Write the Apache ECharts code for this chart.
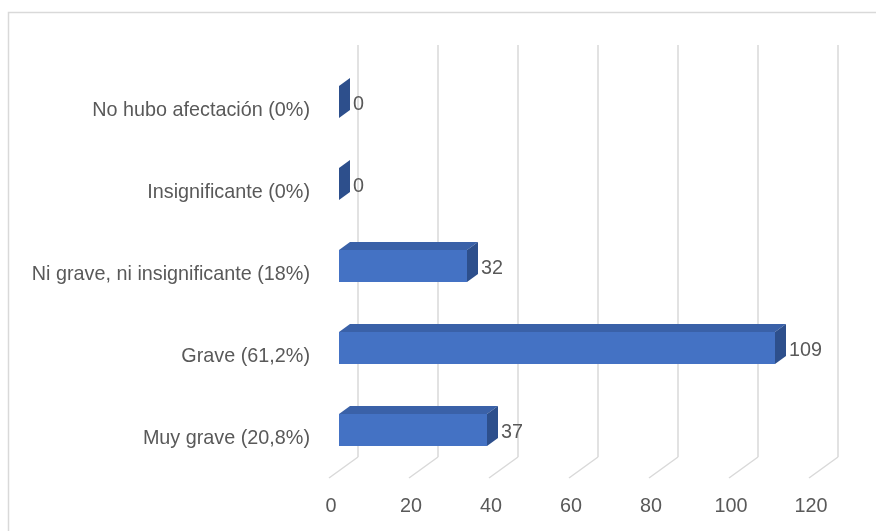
<!DOCTYPE html>
<html>
<head>
<meta charset="utf-8">
<script src="https://cdn.jsdelivr.net/npm/echarts@6/dist/echarts.min.js"></script>
<style>
  html, body { margin: 0; padding: 0; background: #fff; }
  #chart { width: 876px; height: 531px; }
</style>
</head>
<body>
<div id="chart"></div>
<script>
// Categories, bottom to top
const categories = [
  'Muy grave (20,8%)',
  'Grave (61,2%)',
  'Ni grave, ni insignificante (18%)',
  'Insignificante (0%)',
  'No hubo afectación (0%)'
];
const counts = [37, 109, 32, 0, 0];
const axisTicks = [0, 20, 40, 60, 80, 100, 120];

const TEXT = '#595959';
const GRID = '#d9d9d9';
const FONT = 'Liberation Sans';
const FONT_SIZE = 19.8;

// 3D box geometry (pixels)
const BAR_H = 32;      // front face height
const DEPTH_X = 11;    // bar depth shift
const DEPTH_Y = -8;
const WALL_X = 19;     // back wall offset from bar front
const FLOOR_FRONT_X = -10;

const chart = echarts.init(document.getElementById('chart'));

function renderBar(params, api) {
  const v = api.value(0);
  const c = api.value(1);
  const p0 = api.coord([0, c]);
  const p1 = api.coord([v, c]);
  const x0 = p0[0], x1 = p1[0];
  const yT = p0[1] - BAR_H / 2, yB = p0[1] + BAR_H / 2;
  const children = [];
  if (x1 - x0 > 0.5) {
    children.push({
      type: 'polygon',
      shape: { points: [[x0, yT], [x1, yT], [x1 + DEPTH_X, yT + DEPTH_Y], [x0 + DEPTH_X, yT + DEPTH_Y]] },
      style: { fill: '#3a61a8' }
    });
    children.push({
      type: 'rect',
      shape: { x: x0, y: yT, width: x1 - x0, height: BAR_H },
      style: { fill: '#4472c4' }
    });
  }
  children.push({
    type: 'polygon',
    shape: { points: [[x1, yT], [x1 + DEPTH_X, yT + DEPTH_Y], [x1 + DEPTH_X, yB + DEPTH_Y], [x1, yB]] },
    style: { fill: '#2d4f8c' }
  });
  children.push({
    type: 'text',
    style: {
      x: x1 + 14, y: p0[1] + 3,
      text: String(v),
      fill: TEXT, font: FONT_SIZE + 'px ' + FONT,
      verticalAlign: 'middle', align: 'left'
    }
  });
  return { type: 'group', children: children };
}

function renderGrid(params, api) {
  const v = api.value(0);
  const cs = params.coordSys;
  const x = api.coord([v, 0])[0];
  const top = cs.y - 16;
  const floorBack = cs.y + cs.height - 14;
  const floorFront = cs.y + cs.height + 7;
  const style = { stroke: GRID, lineWidth: 1.5, fill: null };
  return {
    type: 'group',
    children: [
      { type: 'line', shape: { x1: x + WALL_X, y1: top, x2: x + WALL_X, y2: floorBack }, style: style },
      { type: 'line', shape: { x1: x + WALL_X, y1: floorBack, x2: x + FLOOR_FRONT_X, y2: floorFront }, style: style }
    ]
  };
}

chart.setOption({
  animation: false,
  backgroundColor: '#fff',
  graphic: [{
    type: 'rect',
    shape: { x: 8.5, y: 12.5, width: 900, height: 600 },
    style: { fill: null, stroke: GRID, lineWidth: 1.5 },
    silent: true
  }],
  grid: { left: 339, right: 57, top: 61, bottom: 60 },
  xAxis: {
    type: 'value',
    min: 0, max: 120, interval: 20,
    axisLine: { show: false },
    axisTick: { show: false },
    splitLine: { show: false },
    axisLabel: {
      color: TEXT, fontSize: FONT_SIZE, fontFamily: FONT,
      margin: 26, padding: [0, 16, 0, 0]
    }
  },
  yAxis: {
    type: 'category',
    data: categories,
    axisLine: { show: false },
    axisTick: { show: false },
    splitLine: { show: false },
    axisLabel: {
      color: TEXT, fontSize: FONT_SIZE, fontFamily: FONT,
      margin: 29, verticalAlign: 'top', lineHeight: 18
    }
  },
  series: [
    {
      type: 'custom',
      z: 1,
      silent: true,
      renderItem: renderGrid,
      encode: { x: 0 },
      data: axisTicks.map(t => [t, 0])
    },
    {
      type: 'custom',
      z: 2,
      renderItem: renderBar,
      encode: { x: 0, y: 1 },
      data: counts.map((v, i) => [v, i])
    }
  ]
});
</script>
</body>
</html>
